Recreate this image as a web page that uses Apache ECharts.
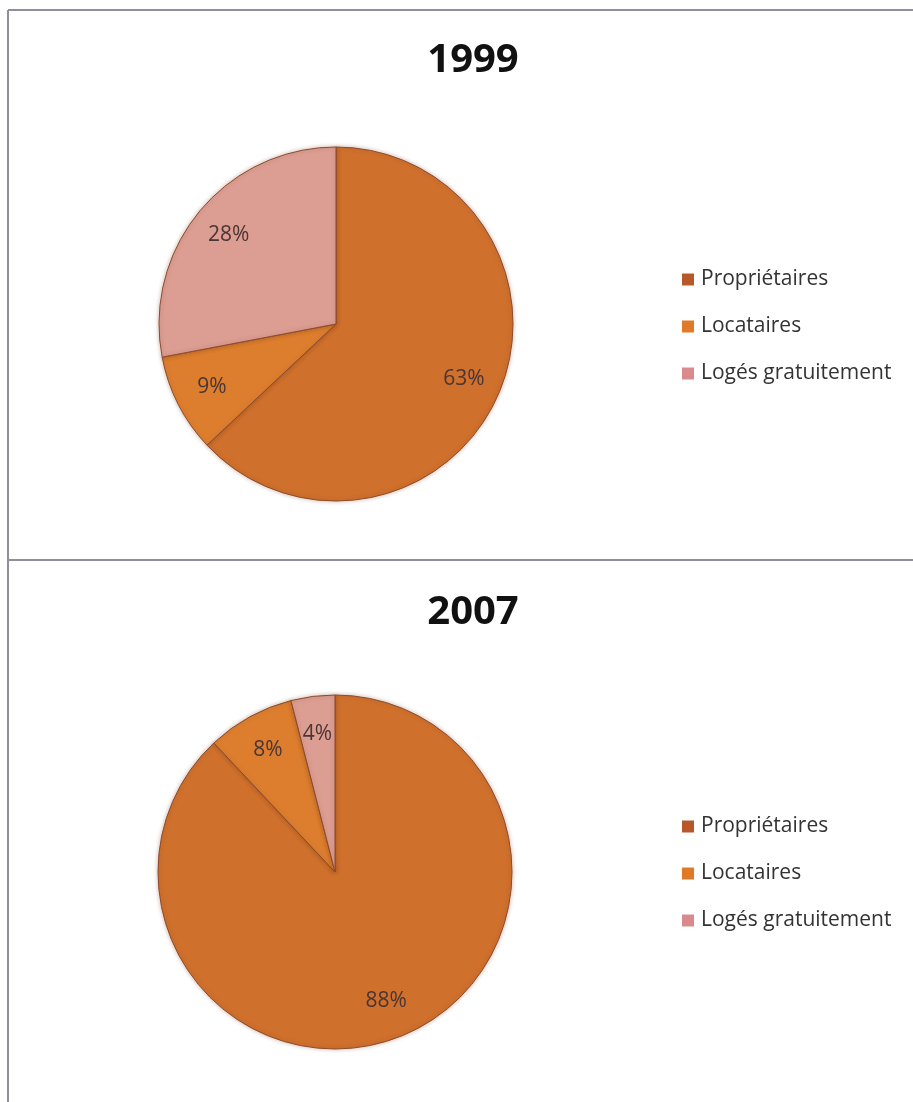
<!DOCTYPE html>
<html>
<head>
<meta charset="utf-8">
<title>Statut d'occupation 1999 / 2007</title>
<script src="https://cdn.jsdelivr.net/npm/echarts@6/dist/echarts.min.js"></script>
<style>
  html, body { margin: 0; padding: 0; background: #fff; }
  #main { width: 913px; height: 1102px; }
</style>
</head>
<body>
<div id="main"></div>
<script>
// categories and values
const categories = ['Propriétaires', 'Locataires', 'Logés gratuitement']
const years = ['1999', '2007']
const values1999 = [63, 9, 28]
const values2007 = [88, 8, 4]

const sliceColors = ['#cf702c', '#dc7e2e', '#dc9d92']
const legendColors = ['#b8582a', '#e07a28', '#d98a8c']
const fontFamily = '"Open Sans", "Noto Sans", sans-serif'

const chart = echarts.init(document.getElementById('main'))

// centres of the two pies
const centers = [[336, 324], [335, 872]]
const radius = 177

function toData(values) {
  return categories.map((name, i) => ({ value: values[i], name: name }))
}

// filled pie, no labels
function piePart(values, idx) {
  return {
    type: 'pie',
    center: centers[idx],
    radius: radius,
    startAngle: 90,
    clockwise: true,
    silent: true,
    label: { show: false },
    labelLine: { show: false },
    color: sliceColors,
    itemStyle: {
      borderColor: '#8a4a30',
      borderWidth: 1,
      shadowBlur: 4,
      shadowColor: 'rgba(120,60,20,0.35)'
    },
    data: toData(values)
  }
}

// transparent ring on top, only to put the labels at about 3/4 of the radius
function labelPart(values, idx) {
  return {
    type: 'pie',
    center: centers[idx],
    radius: [radius * 0.54, radius],
    startAngle: 90,
    clockwise: true,
    silent: true,
    legendHoverLink: false,
    itemStyle: { color: 'rgba(0,0,0,0)', borderWidth: 0 },
    label: {
      show: true,
      position: 'inside',
      formatter: '{c}%',
      color: '#4a3535',
      fontSize: 21,
      fontFamily: fontFamily
    },
    labelLine: { show: false },
    data: toData(values)
  }
}

function legendPart(top) {
  return {
    orient: 'vertical',
    left: 677,
    top: top,
    itemWidth: 12,
    itemHeight: 12,
    itemGap: 26,
    icon: 'rect',
    selectedMode: false,
    textStyle: { color: '#333', fontSize: 21, fontFamily: fontFamily, padding: [0, 0, 0, 2] },
    data: categories.map((name, i) => ({
      name: name,
      itemStyle: { color: legendColors[i], borderWidth: 0, shadowBlur: 0 }
    }))
  }
}

chart.setOption({
  animation: false,
  title: years.map((y, i) => ({
    text: y,
    left: 468,
    textAlign: 'center',
    top: i === 0 ? 36 : 588,
    textStyle: { fontSize: 40, fontWeight: 'bold', color: '#111', fontFamily: fontFamily }
  })),
  legend: [legendPart(264), legendPart(811)],
  series: [
    piePart(values1999, 0),
    labelPart(values1999, 0),
    piePart(values2007, 1),
    labelPart(values2007, 1)
  ],
  graphic: [
    { type: 'line', shape: { x1: 8, y1: 10, x2: 913, y2: 10 }, style: { stroke: '#8e8e9c', lineWidth: 2 } },
    { type: 'line', shape: { x1: 8, y1: 10, x2: 8, y2: 1102 }, style: { stroke: '#8e8e9c', lineWidth: 2 } },
    { type: 'line', shape: { x1: 8, y1: 560, x2: 913, y2: 560 }, style: { stroke: '#8e8e9c', lineWidth: 2 } }
  ]
})
</script>
</body>
</html>
